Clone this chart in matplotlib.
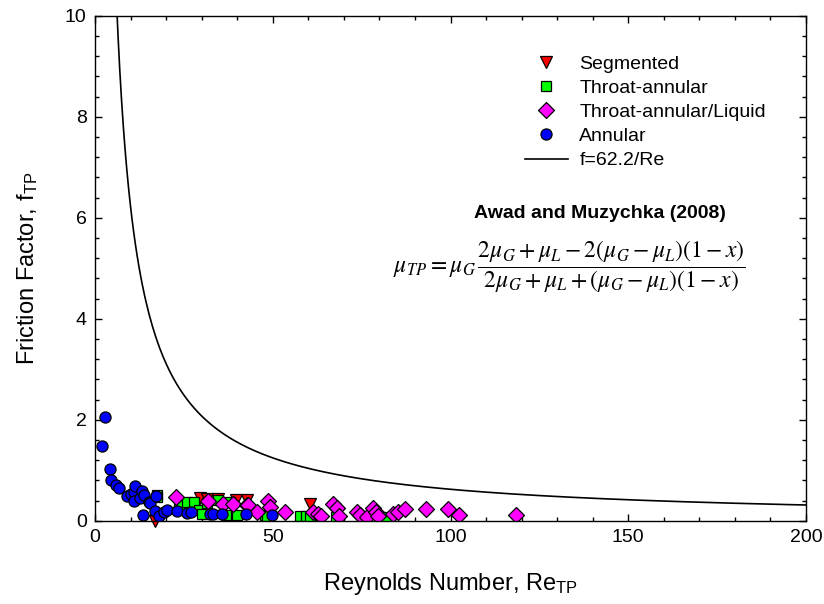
import matplotlib
matplotlib.use("Agg")
import matplotlib.pyplot as plt
import numpy as np

plt.rcParams['font.family'] = ['Liberation Sans', 'DejaVu Sans']
plt.rcParams['mathtext.fontset'] = 'stix'

# Segmented flow
seg_re = [16.9, 29.5, 31.5, 34.5, 39.6, 42.7, 60.5]
seg_f = [0.0, 0.44, 0.43, 0.42, 0.41, 0.41, 0.33]

# Throat-annular
ta_re = [17.3, 17.5, 23.5, 25.9, 27.9, 29.2, 30.0, 31.5, 34.7, 36.9, 38.0,
         39.9, 47.8, 48.3, 57.7, 59.4, 60.4, 67.7, 81.9]
ta_f = [0.51, 0.47, 0.32, 0.38, 0.38, 0.21, 0.14, 0.36, 0.41, 0.11, 0.38,
        0.12, 0.11, 0.09, 0.09, 0.09, 0.08, 0.08, 0.08]

# Throat-annular/Liquid
tal_re = [22.8, 31.7, 36.1, 38.9, 42.7, 43.1, 45.5, 48.7, 49.2, 53.5, 61.2,
          62.6, 63.5, 66.9, 68.2, 68.5, 73.6, 74.5, 76.4, 78.3, 79.0, 79.6,
          83.9, 85.3, 87.2, 93.2, 99.2, 102.5, 118.5]
tal_f = [0.46, 0.39, 0.34, 0.34, 0.31, 0.32, 0.18, 0.39, 0.28, 0.17, 0.18,
         0.14, 0.09, 0.33, 0.25, 0.10, 0.17, 0.11, 0.08, 0.25, 0.18, 0.09,
         0.13, 0.18, 0.24, 0.24, 0.24, 0.11, 0.11]

# Annular
ann_re = [1.9, 2.7, 4.3, 4.6, 5.9, 6.7, 9.0, 10.2, 10.9, 10.9, 11.3, 12.7,
          13.2, 13.5, 13.7, 15.1, 15.6, 17.0, 17.2, 17.9, 19.3, 20.3, 23.1,
          25.9, 27.1, 32.3, 33.1, 35.6, 42.6, 49.7]
ann_f = [1.47, 2.06, 1.02, 0.81, 0.71, 0.65, 0.48, 0.52, 0.57, 0.39, 0.69,
         0.44, 0.59, 0.11, 0.51, 0.38, 0.36, 0.19, 0.48, 0.10, 0.18, 0.21,
         0.19, 0.15, 0.17, 0.13, 0.13, 0.13, 0.13, 0.11]

# laminar line f = 62.2/Re
line_re = np.linspace(6.0, 200, 400)
line_f = 62.2 / line_re

fig = plt.figure(figsize=(8.24, 6.04), dpi=100)
ax = fig.add_axes([95 / 824, 1 - 520.7 / 604, 711 / 824, 505 / 604])

mk = dict(linestyle='none', markeredgecolor='black', markeredgewidth=0.9)
ax.plot(seg_re, seg_f, 'v', color='#ff0000', markersize=9, label='Segmented',
        clip_on=False, **mk)
ax.plot(ta_re, ta_f, 's', color='#00ff00', markersize=7.5, label='Throat-annular', **mk)
ax.plot(tal_re, tal_f, 'D', color='#ff00ff', markersize=8,
        label='Throat-annular/Liquid', **mk)
ax.plot(ann_re, ann_f, 'o', color='#0000ff', markersize=8, label='Annular', **mk)
ax.plot(line_re, line_f, color='black', linewidth=1.2, label='f=62.2/Re')

ax.set_xlim(0, 200)
ax.set_ylim(0, 10)
ax.set_xticks([0, 50, 100, 150, 200])
ax.set_xticks(np.arange(0, 201, 10), minor=True)
ax.set_yticks([0, 2, 4, 6, 8, 10])
ax.set_yticks(np.arange(0, 10.01, 0.4), minor=True)
ax.tick_params(which='both', direction='in', top=True, right=True,
               labelsize=14, width=1)
ax.tick_params(which='major', length=5, pad=6)
ax.tick_params(which='minor', length=3)
for s in ax.spines.values():
    s.set_linewidth(1.0)

ax.set_xlabel('Reynolds Number, Re$_\\mathregular{TP}$', fontsize=17, labelpad=18)
ax.set_ylabel('Friction Factor, f$_\\mathregular{TP}$', fontsize=17, labelpad=18)

ax.legend(loc='upper left', bbox_to_anchor=(525 / 824, 1 - 55 / 604),
          bbox_transform=fig.transFigure, frameon=False, fontsize=14,
          borderpad=0, borderaxespad=0, handlelength=2.2, handletextpad=0.6,
          labelspacing=0.34)

fig.text(600 / 824, 1 - 213 / 604, 'Awad and Muzychka (2008)', fontsize=14,
         fontweight='bold', ha='center', va='center')
fig.text(569 / 824, 1 - 267 / 604,
         r'$\mu_{TP} = \mu_G\,\dfrac{2\mu_G + \mu_L - 2(\mu_G - \mu_L)(1 - x)}'
         r'{2\mu_G + \mu_L + (\mu_G - \mu_L)(1 - x)}$',
         fontsize=17, ha='center', va='center')

fig.savefig('out.png', dpi=100)
